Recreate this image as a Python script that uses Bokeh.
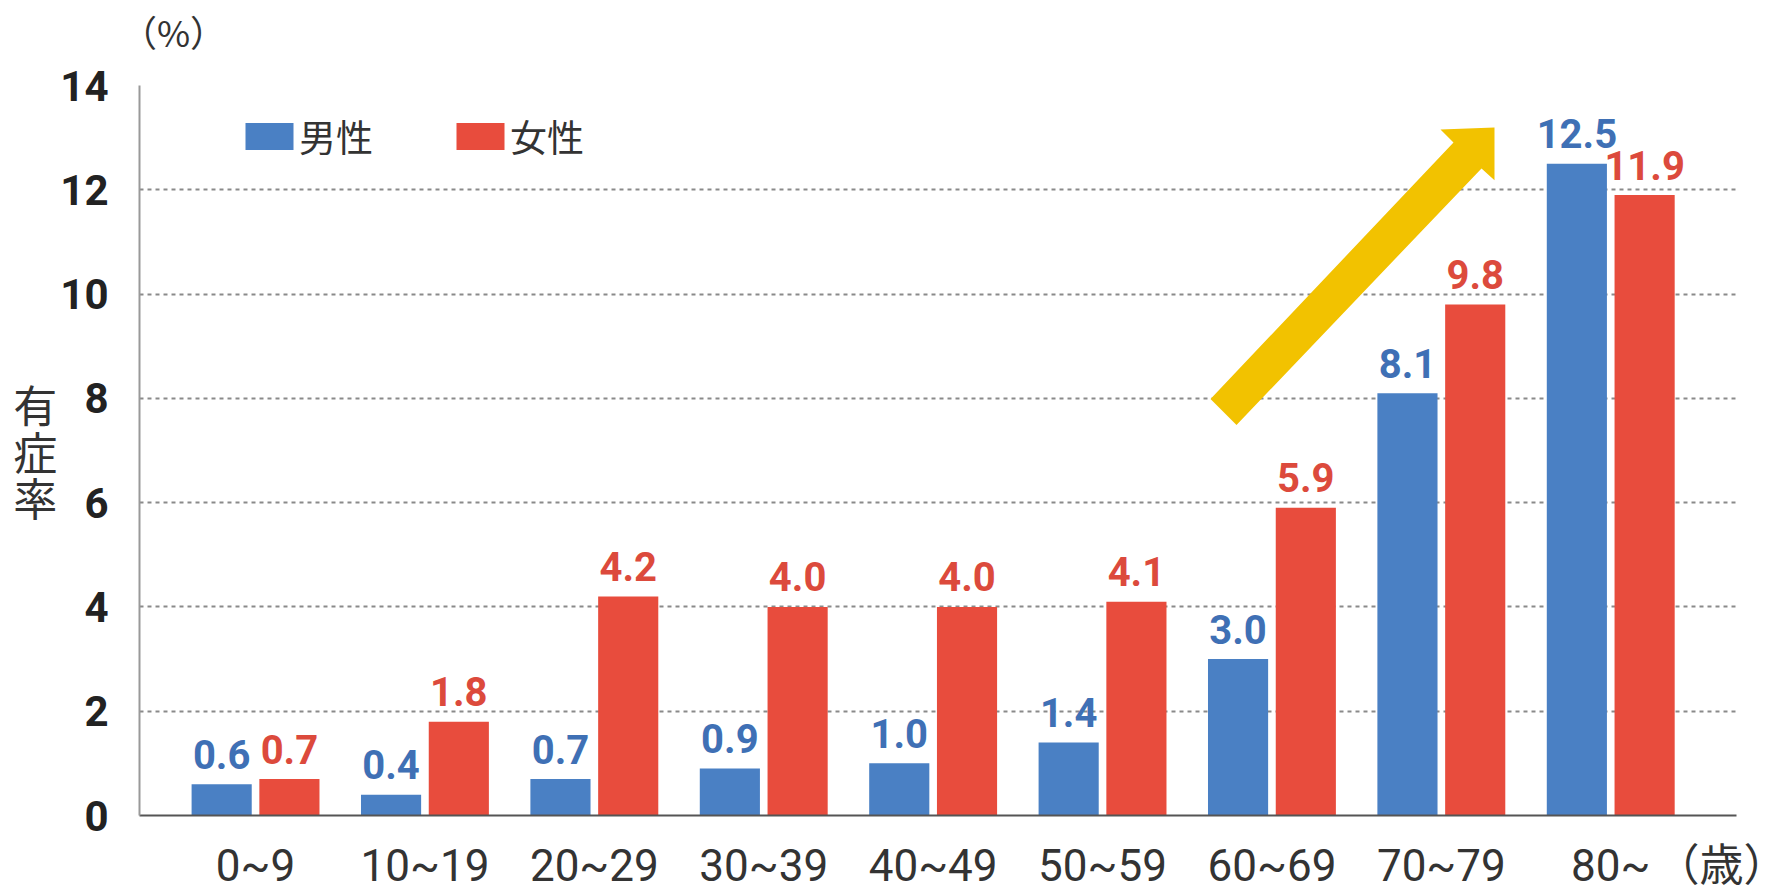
from bokeh.plotting import figure
from bokeh.models import Range1d, FixedTicker, Legend, LegendItem, ColumnDataSource, LinearAxis
from bokeh.core.properties import value
from bokeh.embed import file_html
from bokeh.resources import INLINE

# ---- data ----
categories = ["0~9", "10~19", "20~29", "30~39", "40~49", "50~59", "60~69", "70~79", "80~"]
male = [0.6, 0.4, 0.7, 0.9, 1.0, 1.4, 3.0, 8.1, 12.5]
female = [0.7, 1.8, 4.2, 4.0, 4.0, 4.1, 5.9, 9.8, 11.9]
y_ticks = [0, 2, 4, 6, 8, 10, 12, 14]
series_names = ["男性", "女性"]
y_unit = "（%）"
y_title = "有\n症\n率"
x_unit = "（歳）"

# ---- layout ----
W, H = 1787, 894
FL, FR, FT, FB = 139, 1736, 85, 816
PX_PER_GROUP = 169.4
X0 = -0.685
X1 = X0 + (FR - FL) / PX_PER_GROUP
Y0, Y1 = 0, 14
PX_PER_Y = (FB - FT) / (Y1 - Y0)

def dx(px):
    return X0 + (px - FL) * (X1 - X0) / (FR - FL)

def dy(py):
    return Y0 + (FB - py) * (Y1 - Y0) / (FB - FT)

BLUE = "#4a80c4"
RED = "#e84c3d"
BLUE_T = "#3f70b5"
RED_T = "#dc4a3c"
NUM_FONT = "Roboto"
CJK = "Noto Sans CJK JP"

p = figure(width=W, height=H, x_range=Range1d(X0, X1), y_range=Range1d(Y0, Y1),
           output_backend="svg", toolbar_location=None,
           min_border_left=FL, min_border_right=W - FR,
           min_border_top=FT, min_border_bottom=H - FB)
p.outline_line_color = None
p.background_fill_color = "white"
p.border_fill_color = "white"

p.xgrid.grid_line_color = None
p.ygrid.grid_line_color = "#8a8a8a"
p.ygrid.grid_line_dash = "4 4"
p.ygrid.grid_line_width = 2

p.yaxis.ticker = FixedTicker(ticks=y_ticks)
p.yaxis.axis_line_color = "#999999"
p.yaxis.axis_line_width = 2
p.yaxis.major_tick_line_color = None
p.yaxis.minor_tick_line_color = None
p.yaxis.major_label_standoff = 25
p.yaxis.major_label_text_font = NUM_FONT
p.yaxis.major_label_text_font_style = "bold"
p.yaxis.major_label_text_font_size = "42px"
p.yaxis.major_label_text_color = "#222222"
p.yaxis.axis_label = y_title
p.yaxis.axis_label_orientation = "horizontal"
p.yaxis.axis_label_standoff = 0
p.yaxis.axis_label_text_font = CJK
p.yaxis.axis_label_text_font_size = "44px"
p.yaxis.axis_label_text_line_height = 0.72
p.yaxis.axis_label_text_font_style = "normal"
p.yaxis.axis_label_text_color = "#333333"

idx = list(range(len(categories)))
unit_tick = round(dx(1733), 3)
p.xaxis.ticker = FixedTicker(ticks=idx + [unit_tick])
overrides = {i: c for i, c in enumerate(categories)}
overrides[unit_tick] = x_unit
p.xaxis.major_label_overrides = overrides
p.xaxis.axis_line_color = "#555555"
p.xaxis.axis_line_width = 2
p.xaxis.major_tick_line_color = None
p.xaxis.minor_tick_line_color = None
p.xaxis.major_label_standoff = 18
p.xaxis.major_label_text_font = "Roboto, 'Noto Sans CJK JP'"
p.xaxis.major_label_text_font_size = "44px"
p.xaxis.major_label_text_color = "#333333"

# unit "(%)" shown above the y axis, via an axis placed above the frame
pct_tick = round(dx(173), 3)
top_axis = LinearAxis(ticker=FixedTicker(ticks=[pct_tick]),
                      major_label_overrides={pct_tick: y_unit},
                      axis_line_color=None, major_tick_line_color=None, minor_tick_line_color=None,
                      major_label_standoff=23, major_label_text_font=CJK,
                      major_label_text_font_size="36px", major_label_text_color="#333333")
p.add_layout(top_axis, "above")

off = 0.2
bw = 0.355
lab_gap = 30 / PX_PER_Y
src = ColumnDataSource(dict(
    xm=[i - off for i in idx], xf=[i + off for i in idx],
    male=male, female=female,
    ym=[v + lab_gap for v in male], yf=[v + lab_gap for v in female],
    ml=[f"{v:.1f}" for v in male], fl=[f"{v:.1f}" for v in female],
))

rm = p.vbar(x="xm", top="male", width=bw, bottom=0, source=src, fill_color=BLUE, line_color=None)
rf = p.vbar(x="xf", top="female", width=bw, bottom=0, source=src, fill_color=RED, line_color=None)

p.text(x="xm", y="ym", text="ml", source=src, text_align="center", text_baseline="alphabetic",
       text_font=value(NUM_FONT), text_font_style="bold", text_font_size="40px",
       text_color=BLUE_T)
p.text(x="xf", y="yf", text="fl", source=src, text_align="center", text_baseline="alphabetic",
       text_font=value(NUM_FONT), text_font_style="bold", text_font_size="40px",
       text_color=RED_T)

# yellow arrow (decoration), defined in pixel geometry
arrow_px = [(1210, 399), (1453, 142), (1440, 129), (1494, 127), (1494, 180), (1481, 168), (1236, 425)]
p.patch([dx(a) for a, b in arrow_px], [dy(b) for a, b in arrow_px], fill_color="#f2c200", line_color=None)

legend = Legend(items=[LegendItem(label=series_names[0], renderers=[rm]),
                       LegendItem(label=series_names[1], renderers=[rf])],
                orientation="horizontal", location=(100, 652),
                glyph_width=60, glyph_height=34, label_standoff=0, spacing=77,
                padding=0, margin=0, border_line_color=None, background_fill_alpha=0,
                label_text_font=CJK, label_text_font_size="37px", label_text_color="#333333")
p.add_layout(legend)

open("out.html", "w").write(file_html(p, INLINE))
